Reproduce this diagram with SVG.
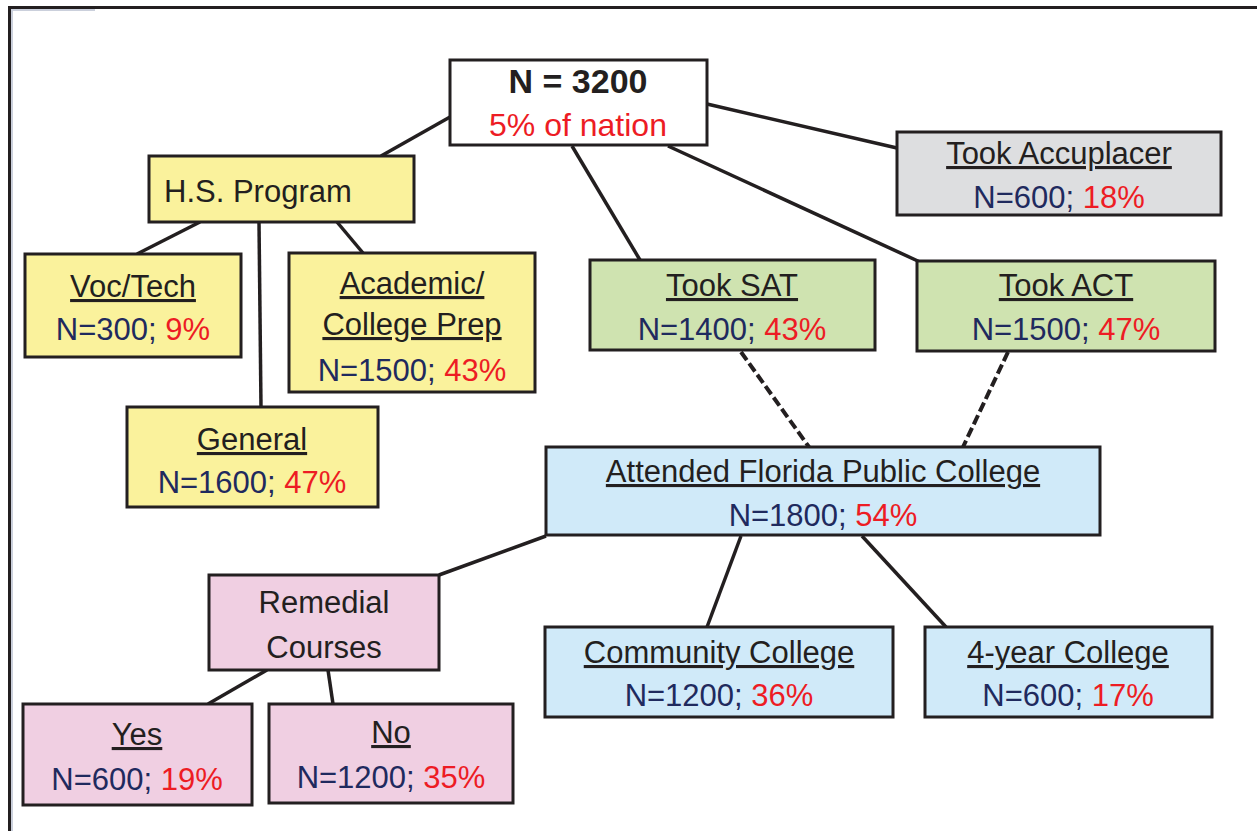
<svg xmlns="http://www.w3.org/2000/svg" width="1257" height="831" viewBox="0 0 1257 831">
<style>
.box{stroke:#231f20;stroke-width:3}
.y{fill:#faf29c}.g{fill:#cfe3b0}.b{fill:#d0eaf9}.p{fill:#f0cfe2}.gr{fill:#dddee0}.w{fill:#ffffff}
text{font-family:"Liberation Sans",Arial,sans-serif;font-size:31px;fill:#231f20;text-anchor:middle}
.u{text-decoration:underline}
.n{fill:#1f2a5e}.r{fill:#ed1c24}
.c{stroke:#231f20;stroke-width:3.5;fill:none}
.d{stroke-dasharray:10 4;stroke-width:4}
</style>
<rect x="0" y="0" width="1257" height="831" fill="#ffffff"/>
<rect x="11" y="9" width="84" height="2" fill="#cbd0dc"/>
<rect x="11" y="9" width="2" height="822" fill="#cbd0dc"/>
<path d="M9.5 831V7.5H1257" fill="none" stroke="#231f20" stroke-width="3"/>
<g id="connectors">
<line class="c" x1="450" y1="117" x2="381" y2="156"/>
<line class="c" x1="707" y1="104" x2="897" y2="148"/>
<line class="c" x1="572" y1="146" x2="640" y2="260"/>
<line class="c" x1="668" y1="146" x2="920" y2="262"/>
<line class="c" x1="200" y1="222" x2="137" y2="254"/>
<line class="c" x1="259" y1="222" x2="261" y2="407"/>
<line class="c" x1="337" y1="222" x2="363" y2="253"/>
<line class="c d" x1="741" y1="352" x2="809" y2="447"/>
<line class="c d" x1="1008" y1="352" x2="963" y2="447"/>
<line class="c" x1="546" y1="536" x2="439" y2="575"/>
<line class="c" x1="741" y1="536" x2="707" y2="627"/>
<line class="c" x1="862" y1="536" x2="946" y2="627"/>
<line class="c" x1="267" y1="670" x2="208" y2="704"/>
<line class="c" x1="328" y1="670" x2="333" y2="704"/>
</g>
<g id="root">
<rect class="box w" x="450" y="60" width="257" height="85"/>
<text x="578" y="93" style="font-size:34px;font-weight:bold">N = 3200</text>
<text x="578" y="136" class="r" style="font-size:32px">5% of nation</text>
</g>
<g id="hs-program">
<rect class="box y" x="149" y="156" width="265" height="66"/>
<text x="164" y="202" style="text-anchor:start">H.S. Program</text>
</g>
<g id="voc-tech">
<rect class="box y" x="25" y="254" width="216" height="103"/>
<text x="133" y="297" class="u">Voc/Tech</text>
<text x="133" y="340"><tspan class="n">N=300; </tspan><tspan class="r">9%</tspan></text>
</g>
<g id="academic">
<rect class="box y" x="289" y="253" width="246" height="139"/>
<text x="412" y="294" class="u">Academic/</text>
<text x="412" y="335" class="u">College Prep</text>
<text x="412" y="381"><tspan class="n">N=1500; </tspan><tspan class="r">43%</tspan></text>
</g>
<g id="general">
<rect class="box y" x="127" y="407" width="251" height="100"/>
<text x="252" y="450" class="u">General</text>
<text x="252" y="493"><tspan class="n">N=1600; </tspan><tspan class="r">47%</tspan></text>
</g>
<g id="took-sat">
<rect class="box g" x="590" y="260" width="285" height="90"/>
<text x="732" y="296" class="u">Took SAT</text>
<text x="732" y="340"><tspan class="n">N=1400; </tspan><tspan class="r">43%</tspan></text>
</g>
<g id="took-act">
<rect class="box g" x="917" y="261" width="298" height="90"/>
<text x="1066" y="296" class="u">Took ACT</text>
<text x="1066" y="340"><tspan class="n">N=1500; </tspan><tspan class="r">47%</tspan></text>
</g>
<g id="took-accuplacer">
<rect class="box gr" x="897" y="132" width="324" height="83"/>
<text x="1059" y="164" class="u">Took Accuplacer</text>
<text x="1059" y="208"><tspan class="n">N=600; </tspan><tspan class="r">18%</tspan></text>
</g>
<g id="attended">
<rect class="box b" x="546" y="447" width="554" height="88"/>
<text x="823" y="482" class="u">Attended Florida Public College</text>
<text x="823" y="526"><tspan class="n">N=1800; </tspan><tspan class="r">54%</tspan></text>
</g>
<g id="remedial">
<rect class="box p" x="209" y="575" width="230" height="95"/>
<text x="324" y="613">Remedial</text>
<text x="324" y="658">Courses</text>
</g>
<g id="community">
<rect class="box b" x="545" y="627" width="348" height="90"/>
<text x="719" y="663" class="u">Community College</text>
<text x="719" y="706"><tspan class="n">N=1200; </tspan><tspan class="r">36%</tspan></text>
</g>
<g id="four-year">
<rect class="box b" x="925" y="627" width="287" height="90"/>
<text x="1068" y="663" class="u">4-year College</text>
<text x="1068" y="706"><tspan class="n">N=600; </tspan><tspan class="r">17%</tspan></text>
</g>
<g id="yes">
<rect class="box p" x="23" y="704" width="229" height="101"/>
<text x="137" y="745" class="u">Yes</text>
<text x="137" y="790"><tspan class="n">N=600; </tspan><tspan class="r">19%</tspan></text>
</g>
<g id="no">
<rect class="box p" x="269" y="704" width="244" height="99"/>
<text x="391" y="743" class="u">No</text>
<text x="391" y="788"><tspan class="n">N=1200; </tspan><tspan class="r">35%</tspan></text>
</g>
</svg>
